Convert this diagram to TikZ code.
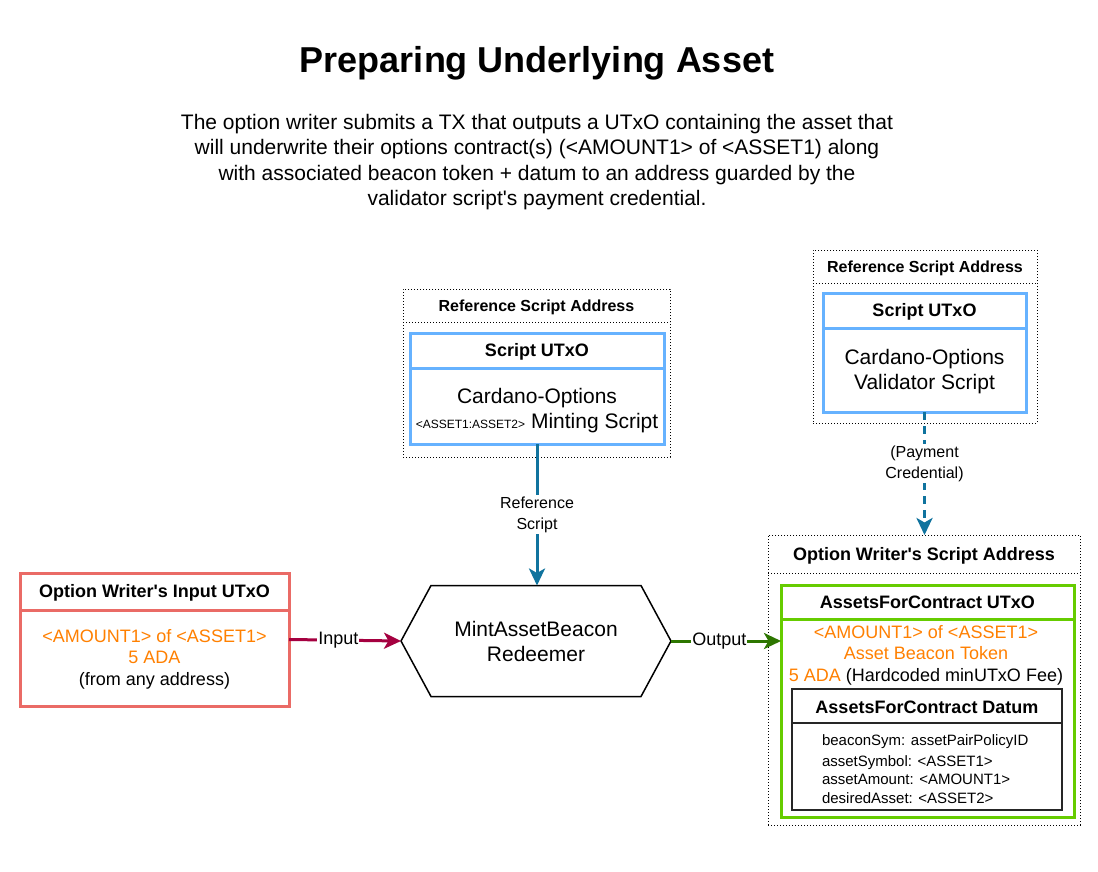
\documentclass[tikz,border=0pt]{standalone}
\usepackage{fontspec}
\setmainfont{Liberation Sans}
\usetikzlibrary{arrows.meta}
\definecolor{salmon}{HTML}{EA6B66}
\definecolor{orangetxt}{HTML}{FF8000}
\definecolor{boxblue}{HTML}{66B2FF}
\definecolor{arrowblue}{HTML}{10739E}
\definecolor{maroonc}{HTML}{A50040}
\definecolor{darkgreenc}{HTML}{2D7600}
\definecolor{boxgreen}{HTML}{66CC00}
\newcommand{\org}[1]{\textcolor{orangetxt}{#1}}
\newcommand{\apos}{\textquotesingle}
\begin{document}
\begin{tikzpicture}[x=1pt,y=-1pt,
  every node/.style={inner sep=0pt, outer sep=0pt},
  titlef/.style={font=\bfseries\fontsize{36}{40}\selectfont},
  descf/.style={font=\fontsize{21}{25.5}\selectfont, align=center},
  hdr/.style={font=\bfseries\fontsize{18}{21}\selectfont},
  addr/.style={font=\bfseries\fontsize{16}{19}\selectfont},
  bodytxt/.style={font=\fontsize{18}{21.5}\selectfont, align=center},
  bigtxt/.style={font=\fontsize{21}{25}\selectfont, align=center},
  fieldtxt/.style={font=\fontsize{15}{18.5}\selectfont, align=left},
  elabel/.style={fill=white, font=\fontsize{16}{21}\selectfont, align=center, inner sep=1.5pt},
  elabelL/.style={fill=white, font=\fontsize{18}{21}\selectfont, align=center, inner sep=1pt},
  dotbox/.style={draw=black, line width=1pt, dash pattern=on 1pt off 2pt},
  dotline/.style={draw=black, line width=1pt, dash pattern=on 1pt off 2pt},
  bluebox/.style={draw=boxblue, line width=3pt},
  blueline/.style={draw=boxblue, line width=3pt},
  salmonbox/.style={draw=salmon, line width=3pt},
  salmonline/.style={draw=salmon, line width=3pt},
  greenbox/.style={draw=boxgreen, line width=3pt},
  greenline/.style={draw=boxgreen, line width=3pt},
  datbox/.style={draw=black!85, line width=1.5pt},
  datline/.style={draw=black!85, line width=1.5pt},
  hexline/.style={draw=black, line width=1.5pt, line join=miter},
  tipstyle/.style={-{Stealth[length=17pt,width=16pt,inset=4.5pt]}},
  inarrow/.style={tipstyle, draw=maroonc, line width=3pt},
  outarrow/.style={tipstyle, draw=darkgreenc, line width=3pt},
  refarrow/.style={tipstyle, draw=arrowblue, line width=3pt},
  payarrow/.style={tipstyle, draw=arrowblue, line width=3pt, dash pattern=on 8pt off 6pt},
]
\useasboundingbox (0,0) rectangle (1098,872);
\fill[white] (0,0) rectangle (1098,872);

% Title and description
\node[titlef] (title) at (537,63) {Preparing Underlying Asset};
\node[descf] (desc) at (537,162) {The option writer submits a TX that outputs a UTxO containing the asset that\\will underwrite their options contract(s) (<AMOUNT1> of <ASSET1) along\\with associated beacon token + datum to an address guarded by the\\validator script\apos s payment credential.};

% Input UTxO
\node[salmonbox, minimum width=269pt, minimum height=133pt] (inbox) at (154.5,639.5) {};
\draw[salmonline] ([yshift=-37pt]inbox.north west) -- ([yshift=-37pt]inbox.north east);
\node[hdr] (inhdr) at (154.5,593) {Option Writer\apos s Input UTxO};
\node[bodytxt] (inbody) at (154.5,659) {\org{<AMOUNT1> of <ASSET1>}\\\org{5 ADA}\\(from any address)};

% Redeemer hexagon
\node[bigtxt, minimum width=270pt, minimum height=111pt] (hex) at (536,641) {MintAssetBeacon\\Redeemer};
\draw[hexline] (hex.west) -- ([xshift=30pt]hex.north west) -- ([xshift=-30pt]hex.north east) -- (hex.east) -- ([xshift=-30pt]hex.south east) -- ([xshift=30pt]hex.south west) -- cycle;

% Reference script address (minting)
\node[dotbox, minimum width=267pt, minimum height=168pt] (refA) at (536.5,373) {};
\draw[dotline] ([yshift=-33pt]refA.north west) -- ([yshift=-33pt]refA.north east);
\node[addr] (refAhdr) at (536.5,307) {Reference Script Address};
\node[bluebox, minimum width=254pt, minimum height=111pt] (scrA) at (537,388.5) {};
\draw[blueline] ([yshift=-35pt]scrA.north west) -- ([yshift=-35pt]scrA.north east);
\node[hdr] (scrAhdr) at (537,352) {Script UTxO};
\node[bigtxt] (scrAbody) at (537,411) {Cardano-Options\\{\fontsize{12}{14}\selectfont <ASSET1:ASSET2>} Minting Script};

% Reference script address (validator)
\node[dotbox, minimum width=224pt, minimum height=173pt] (refB) at (925,336.5) {};
\draw[dotline] ([yshift=-33pt]refB.north west) -- ([yshift=-33pt]refB.north east);
\node[addr] (refBhdr) at (925,268) {Reference Script Address};
\node[bluebox, minimum width=203pt, minimum height=119pt] (scrB) at (924.5,352.5) {};
\draw[blueline] ([yshift=-35pt]scrB.north west) -- ([yshift=-35pt]scrB.north east);
\node[hdr] (scrBhdr) at (924.5,312) {Script UTxO};
\node[bigtxt] (scrBbody) at (924.5,372) {Cardano-Options\\Validator Script};

% Option writer's script address
\node[dotbox, minimum width=312pt, minimum height=290pt] (owA) at (924,680) {};
\draw[dotline] ([yshift=-38pt]owA.north west) -- ([yshift=-38pt]owA.north east);
\node[hdr] (owAhdr) at (924,555.5) {Option Writer\apos s Script Address};
\node[greenbox, minimum width=293pt, minimum height=232pt] (afc) at (927.5,701) {};
\draw[greenline] ([yshift=-34pt]afc.north west) -- ([yshift=-34pt]afc.north east);
\node[hdr] (afchdr) at (927.5,602.5) {AssetsForContract UTxO};
\node[bodytxt] (afcbody) at (926,655) {\org{<AMOUNT1> of <ASSET1>}\\\org{Asset Beacon Token}\\\org{5 ADA} (Hardcoded minUTxO Fee)};

% Datum
\node[datbox, minimum width=270pt, minimum height=121pt] (dat) at (927,749.5) {};
\draw[datline] ([yshift=-34pt]dat.north west) -- ([yshift=-34pt]dat.north east);
\node[hdr] (dathdr) at (927,707.5) {AssetsForContract Datum};
\node[fieldtxt, anchor=west] (datf) at (822,769) {beaconSym: assetPairPolicyID\\[2.5pt]assetSymbol: <ASSET1>\\assetAmount: <AMOUNT1>\\desiredAsset: <ASSET2>};

% Connectors
\draw[inarrow] (inbox.east) -- (hex.west) node[elabelL, pos=0.44] (inlbl) {Input};
\draw[outarrow] (hex.east) -- (hex.east -| afc.west) node[elabelL, pos=0.44] (outlbl) {Output};
\draw[refarrow] (scrA.south) -- (scrA.south |- hex.north) node[elabel, pos=0.5] (reflbl) {Reference\\Script};
\draw[payarrow] (scrB.south) -- (scrB.south |- owA.north) node[elabel, pos=0.42] (paylbl) {(Payment\\Credential)};
\end{tikzpicture}
\end{document}
